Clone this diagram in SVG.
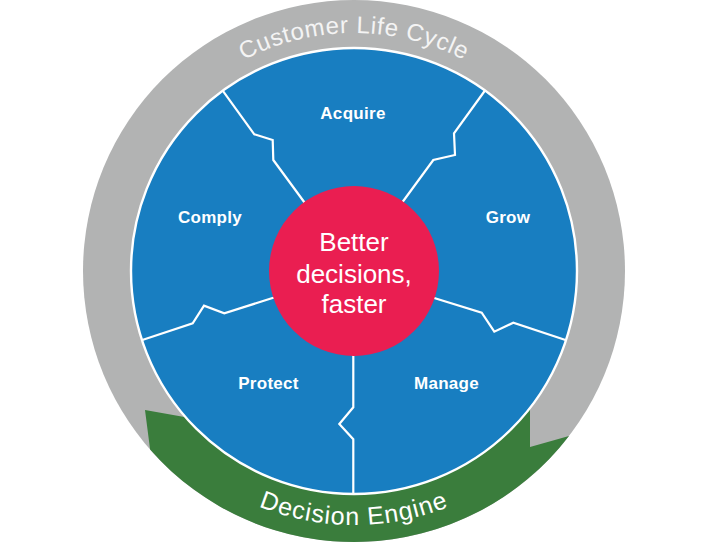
<svg xmlns="http://www.w3.org/2000/svg" xmlns:xlink="http://www.w3.org/1999/xlink" width="707" height="543" viewBox="0 0 707 543">
  <style>
    .seg { font-family: "Liberation Sans", Arial, sans-serif; font-weight: bold; font-size: 17px; fill: #ffffff; text-anchor: middle; letter-spacing: 0.3px; }
    .ctr { font-family: "Liberation Sans", Arial, sans-serif; font-size: 26px; fill: #ffffff; text-anchor: middle; }
    .arc { font-family: "Liberation Sans", Arial, sans-serif; text-anchor: middle; }
    .div { fill: none; stroke: #ffffff; stroke-width: 2.2; stroke-linejoin: miter; }
  </style>
  <defs>
    <path id="topArc" d="M116,271 A238,238 0 0 1 592,271"/>
    <path id="botArc" d="M100,271 A254,254 0 0 0 608,271"/>
  </defs>
  <rect width="707" height="543" fill="#ffffff"/>

  <g id="ring">
    <circle cx="354" cy="271" r="271" fill="#b2b3b3"/>
    <path id="decision-engine-band" d="M145,410 L190,418 L354,271 L530,405 L530,447 L569,436 A271,271 0 0 1 150.1,449.5 Z" fill="#3a7d3c"/>
    <text class="arc" fill="#f4f4f4" font-size="24" letter-spacing="0.7"><textPath href="#topArc" xlink:href="#topArc" startOffset="50%">Customer Life Cycle</textPath></text>
    <text class="arc" fill="#ffffff" font-size="25" letter-spacing="1"><textPath href="#botArc" xlink:href="#botArc" startOffset="50%">Decision Engine</textPath></text>
  </g>

  <g id="wheel">
    <circle cx="354" cy="271" r="223" fill="#187ec1" stroke="#ffffff" stroke-width="2.4"/>
  </g>

  <g id="connectors">
    <polyline class="div" points="222.7,90.7 254.3,134.3 272.7,140 273.3,160 302.7,200 312,213"/>
    <polyline class="div" points="485,90.5 454,133.3 455,155 433.3,160 404,200 395,212"/>
    <polyline class="div" points="142.3,340 192.7,323.3 204,305.7 224.3,313.3 271.7,298.3 286,294"/>
    <polyline class="div" points="565.5,340 513.3,322.7 494.3,331.7 481.7,312.7 435,298.3 422,294"/>
    <polyline class="div" points="353.3,345 353.3,407.3 339.3,424 353.3,439.3 353.3,494"/>
  </g>

  <g id="center">
    <circle cx="354" cy="271" r="85" fill="#ea1e51"/>
    <text class="ctr" x="354" y="251">Better</text>
    <text class="ctr" x="354" y="282.5">decisions,</text>
    <text class="ctr" x="354" y="313">faster</text>
  </g>

  <g id="acquire"><text class="seg" x="353" y="119">Acquire</text></g>
  <g id="comply"><text class="seg" x="210" y="222.5">Comply</text></g>
  <g id="grow"><text class="seg" x="508" y="222.5">Grow</text></g>
  <g id="protect"><text class="seg" x="268.5" y="389">Protect</text></g>
  <g id="manage"><text class="seg" x="446.5" y="389">Manage</text></g>
</svg>
